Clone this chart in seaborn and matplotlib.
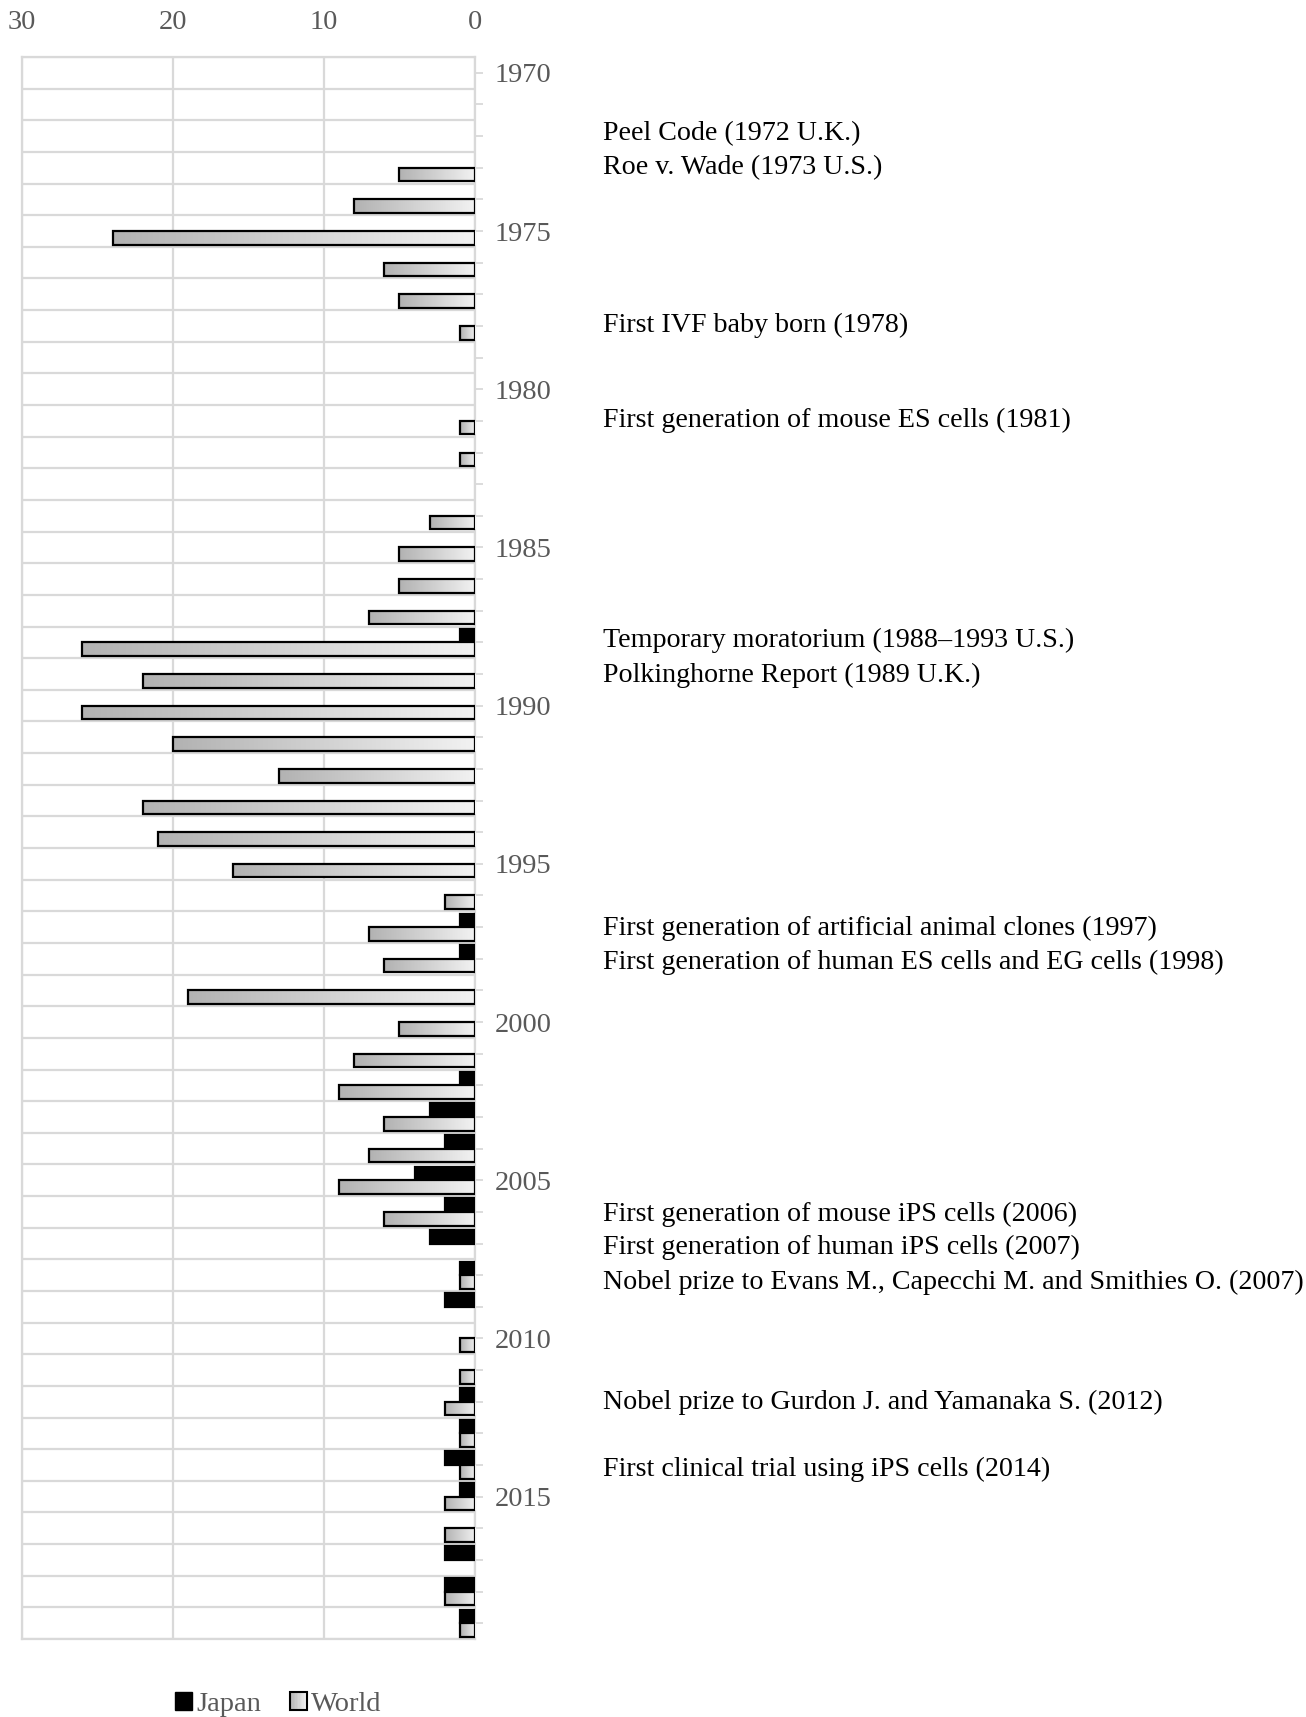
import numpy as np
import pandas as pd
import matplotlib
matplotlib.use("Agg")
import matplotlib.pyplot as plt
import seaborn as sns
from matplotlib.colors import LinearSegmentedColormap
from matplotlib.patches import Rectangle, Patch
from matplotlib.legend_handler import HandlerBase
from matplotlib.transforms import blended_transform_factory

# ---------------- data ----------------
years = list(range(1970, 2020))
japan = [0, 0, 0, 0, 0, 0, 0, 0, 0, 0,
         0, 0, 0, 0, 0, 0, 0, 0, 1, 0,
         0, 0, 0, 0, 0, 0, 0, 1, 1, 0,
         0, 0, 1, 3, 2, 4, 2, 3, 1, 2,
         0, 0, 1, 1, 2, 1, 0, 2, 2, 1]
world = [0, 0, 0, 5, 8, 24, 6, 5, 1, 0,
         0, 1, 1, 0, 3, 5, 5, 7, 26, 22,
         26, 20, 13, 22, 21, 16, 2, 7, 6, 19,
         5, 8, 9, 6, 7, 9, 6, 0, 1, 0,
         1, 1, 2, 1, 1, 2, 2, 0, 2, 1]
series_names = ["Japan", "World"]
x_ticks = [30, 20, 10, 0]

events = ["Peel Code (1972 U.K.)",
          "Roe v. Wade (1973 U.S.)",
          "First IVF baby born (1978)",
          "First generation of mouse ES cells (1981)",
          "Temporary moratorium (1988\u20131993 U.S.)",
          "Polkinghorne Report (1989 U.K.)",
          "First generation of artificial animal clones (1997)",
          "First generation of human ES cells and EG cells (1998)",
          "First generation of mouse iPS cells (2006)",
          "First generation of human iPS cells (2007)",
          "Nobel prize to Evans M., Capecchi M. and Smithies O. (2007)",
          "Nobel prize to Gurdon J. and Yamanaka S. (2012)",
          "First clinical trial using iPS cells (2014)"]
# vertical placement of the event texts (row positions)
event_rows = [1.81, 2.88, 7.89, 10.9, 17.85, 18.93, 26.95, 28.02,
              35.97, 37.01, 38.12, 41.92, 44.03]

df = pd.DataFrame({
    "year": [str(y) for y in years] * 2,
    "count": japan + world,
    "series": [series_names[0]] * len(years) + [series_names[1]] * len(years),
})

# ---------------- style ----------------
sns.set_theme(style="white")
plt.rcParams["font.family"] = ["Liberation Serif", "DejaVu Serif"]
GRID = "#d9d9d9"
TXT = "#595959"
grad_cmap = LinearSegmentedColormap.from_list("g", ["#b2b2b2", "#f2f2f2"])

fig = plt.figure(figsize=(13.06, 17.17), dpi=100)
ax = fig.add_axes([0.0168, 0.0454, 0.3469, 0.9214])

sns.barplot(data=df, y="year", x="count", hue="series", orient="h",
            hue_order=series_names,
            palette={"Japan": "black", "World": "#d0d0d0"},
            width=0.86, gap=0, edgecolor="black", linewidth=1.6,
            legend=False, ax=ax, zorder=3)

ax.set_xlim(30, 0)
ax.set_ylim(len(years) - 0.5, -0.5)

# gradient fill for World bars
for p in ax.containers[1].patches:
    w = p.get_width()
    if w == 0 or np.isnan(w):
        p.set_linewidth(0)
        continue
    x0 = p.get_x()
    y0 = p.get_y()
    h = p.get_height()
    p.set_facecolor("none")
    p.set_zorder(4)
    grad = np.linspace(0, 1, 256).reshape(1, -1)
    xl, xr = max(x0, x0 + w), min(x0, x0 + w)
    im = ax.imshow(grad, cmap=grad_cmap, aspect="auto",
                   extent=[xl, xr, y0 + h, y0], zorder=3,
                   interpolation="bilinear")
    im.set_clip_path(p)
for p in ax.containers[0].patches:
    if p.get_width() == 0:
        p.set_linewidth(0)

ax.set_xlim(30, 0)
ax.set_ylim(len(years) - 0.5, -0.5)

# axes decoration
ax.set_xlabel("")
ax.set_ylabel("")
ax.xaxis.tick_top()
ax.set_xticks(x_ticks)
ax.set_xticklabels([str(t) for t in x_ticks])
ax.tick_params(axis="x", length=0, pad=16, labelsize=20.5, labelcolor=TXT)

ax.yaxis.tick_right()
ax.set_yticks(range(len(years)))
ax.set_yticklabels([str(y) if y % 5 == 0 else "" for y in years])
ax.tick_params(axis="y", which="major", direction="out", length=6, width=1.3,
               color=GRID, pad=8, labelsize=20.5, labelcolor=TXT)
ax.set_yticks(np.arange(-0.5, len(years), 1.0), minor=True)
ax.tick_params(axis="y", which="minor", length=0)

ax.grid(False)
ax.grid(axis="y", which="minor", color=GRID, linewidth=1.6)
ax.grid(axis="x", which="major", color=GRID, linewidth=1.6)
ax.set_axisbelow(True)
for s in ax.spines.values():
    s.set_visible(True)
    s.set_color(GRID)
    s.set_linewidth(1.6)

# event annotations
trans = blended_transform_factory(fig.transFigure, ax.transData)
for txt, r in zip(events, event_rows):
    ax.text(0.4617, r + 0.1, txt, transform=trans, ha="left", va="center",
            fontsize=20.2, color="black", clip_on=False)


# legend with gradient handle
class GradientHandler(HandlerBase):
    def create_artists(self, legend, orig_handle, xdescent, ydescent,
                       width, height, fontsize, trans):
        arts = []
        n = 12
        for k in range(n):
            arts.append(Rectangle((-xdescent + width * k / n, -ydescent),
                                  width / n, height,
                                  facecolor=grad_cmap(k / (n - 1)),
                                  edgecolor="none", transform=trans))
        arts.append(Rectangle((-xdescent, -ydescent), width, height,
                              facecolor="none", edgecolor="black",
                              linewidth=1.5, transform=trans))
        return arts


h_japan = Patch(facecolor="black", edgecolor="black")
h_world = Patch(facecolor="#d0d0d0", edgecolor="black")
fig.legend([h_japan, h_world], series_names, loc="center",
           bbox_to_anchor=(0.213, 0.0075), ncol=2, frameon=False,
           handlelength=0.6, handleheight=0.6, handletextpad=0.15,
           columnspacing=1.0, fontsize=20.5, labelcolor=TXT,
           handler_map={h_world: GradientHandler()})

fig.savefig("out.png", dpi=100)
